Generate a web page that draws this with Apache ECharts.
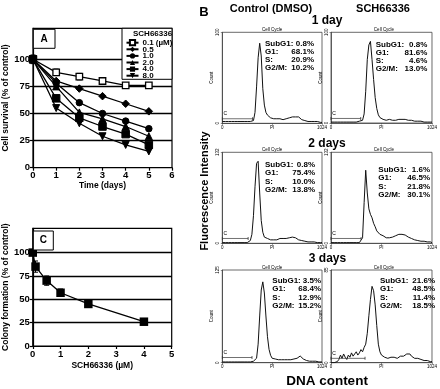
<!DOCTYPE html>
<html><head><meta charset="utf-8">
<script src="https://cdn.jsdelivr.net/npm/echarts@6.0.0/dist/echarts.min.js"></script>
<style>html,body{margin:0;padding:0;background:#fff}#c{width:440px;height:389px}</style>
</head><body><div id="c"></div>
<script>
// ---------- Panel A: cell survival ----------
const days = [0, 1, 2, 3, 4, 5];
const doseNames = ['0.1 (\u00b5M)', '0.5', '1.0', '2.0', '4.0', '8.0'];
const surv01 = [100, 88, 84, 80, 76, 76];
const surv05 = [100, 80, 73, 66, 59, 52];
const surv10 = [100, 78, 60, 50, 43, 36];
const surv20 = [100, 75, 51, 45, 38, 29];
const surv40 = [100, 64, 46, 38, 31, 21];
const surv80 = [100, 55, 41, 29, 21, 15];
const surv01Err = [4, 3, 3, 2, 2, 2];
const yTicksA = [0, 25, 50, 75, 100];

// ---------- Panel C: colony formation ----------
const doseC = [0, 0.1, 0.5, 1, 2, 4];
const colony = [100, 85, 70, 57, 45, 26];
const colonyErr = [2, 6, 5, 4, 2, 2];
const yTicksC = [0, 25, 50, 75, 100];

// ---------- Panel B: cell cycle histograms ----------
const channels = [0,16,32,48,64,80,96,112,128,144,160,176,192,208,224,240,256,272,288,304,320,336,352,368,384,400,416,432,448,464,480,496,512,528,544,560,576,592,608,624,640,656,672,688,704,720,736,752,768,784,800,816,832,848,864,880,896,912,928,944,960,976,992,1008,1024];
const histXLabels = ['0', 'PI', '1024'];
const histCtrlDay1 = [2,2,2,2,2,2,2,2,2,2,2,2,2,2,2,2,2,2,2,2,3,12,40,72,88,74,38,20,12,9,7,6,6,5,5,5,4,5,5,4,5,5,5,6,6,7,8,7,6,7,5,4,3,3,3,2,2,2,2,2,2,2,1,1,1];
const histSchDay1 = [1,1,1,1,1,1,1,1,1,1,1,1,1,1,1,1,1,1,2,2,3,10,35,70,86,90,70,48,28,16,9,6,5,4,4,3,3,4,3,3,4,3,4,4,5,4,5,4,4,3,3,3,3,2,2,2,2,2,2,1,1,1,1,1,1];
const histCtrlDay2 = [1,1,1,1,1,1,1,1,1,1,1,1,1,1,1,1,1,3,4,13,40,82,116,119,73,33,16,9,7,7,5,5,5,5,7,5,5,7,5,7,7,7,8,8,9,9,8,8,7,5,4,4,3,3,3,2,3,2,2,2,2,1,1,1,1];
const histSchDay2 = [1,1,1,1,1,1,1,1,1,1,1,1,1,1,1,1,1,1,1,3,8,59,106,73,50,42,37,29,24,18,16,13,12,11,9,8,8,8,8,9,9,11,12,13,15,13,15,12,11,9,8,7,5,5,4,4,4,3,3,3,2,2,2,2,1];
const histCtrlDay3 = [1,1,1,1,1,1,1,1,1,1,1,1,1,1,1,1,1,1,1,1,2,3,6,25,63,98,109,94,63,35,18,10,6,5,5,5,4,5,4,5,4,5,4,5,4,5,5,5,6,8,9,8,5,4,3,3,2,3,2,2,2,1,1,1,1];
const histSchDay3 = [0,0,0,1,1,3,7,4,8,5,3,7,5,9,6,8,10,7,9,12,10,14,17,27,43,58,70,66,53,34,17,10,7,6,5,6,4,5,5,4,5,5,4,5,6,5,6,7,8,7,8,6,5,4,3,4,3,3,3,2,3,2,2,1,1];
const countMax = [100, 100, 132, 132, 125, 85];
const gateLevel = [5, 5, 7, 7, 7, 4];
const gateEnd = [310, 302, 265, 305, 305, 345];
const phaseLabels = ['SubG1:', 'G1:', 'S:', 'G2/M:'];
const ctrlDay1 = ['0.8%', '68.1%', '20.9%', '10.2%'];
const schDay1 = ['0.8%', '81.6%', '4.6%', '13.0%'];
const ctrlDay2 = ['0.8%', '75.4%', '10.0%', '13.8%'];
const schDay2 = ['1.6%', '46.5%', '21.8%', '30.1%'];
const ctrlDay3 = ['3.5%', '68.4%', '12.9%', '15.2%'];
const schDay3 = ['21.6%', '48.5%', '11.4%', '18.5%'];
const columnTitles = ['Control (DMSO)', 'SCH66336'];
const dayTitles = ['1 day', '2 days', '3 days'];

const F = '"Liberation Sans", Arial, sans-serif';
const chart = echarts.init(document.getElementById('c'), null, {renderer: 'canvas'});

const grids = [], xAxes = [], yAxes = [], series = [], graphic = [];
const bold = (size) => ({fontFamily: F, fontWeight: 'bold', fontSize: size, color: '#000'});

// ---- Grid A ----
grids.push({left: 33, top: 28.3, width: 139, height: 139.4, show: true, borderColor: '#000', borderWidth: 1.2, backgroundColor: 'transparent'});
xAxes.push({gridIndex: 0, type: 'value', min: 0, max: 6, interval: 1,
  axisLine: {lineStyle: {color: '#000', width: 1.2}}, axisTick: {length: 3, lineStyle: {color: '#000', width: 1.2}},
  axisLabel: Object.assign(bold(9.5), {margin: 3}), splitLine: {show: false},
  name: 'Time (days)', nameLocation: 'middle', nameGap: 12.5, nameTextStyle: bold(8.5)});
yAxes.push({gridIndex: 0, type: 'value', min: 0, max: 128.6,
  axisLine: {lineStyle: {color: '#000', width: 1.2}},
  axisTick: {customValues: yTicksA, length: 3, lineStyle: {color: '#000', width: 1.2}},
  axisLabel: Object.assign(bold(9.5), {margin: 3, customValues: yTicksA}), splitLine: {show: false},
  name: 'Cell survival (% of control)', nameLocation: 'middle', nameGap: 22, nameTextStyle: bold(8.5)});

// ---- Grid C ----
grids.push({left: 32.3, top: 228.3, width: 139.4, height: 117.7, show: true, borderColor: '#000', borderWidth: 1.2, backgroundColor: 'transparent'});
xAxes.push({gridIndex: 1, type: 'value', min: 0, max: 5, interval: 1,
  axisLine: {lineStyle: {color: '#000', width: 1.2}}, axisTick: {length: 3, lineStyle: {color: '#000', width: 1.2}},
  axisLabel: Object.assign(bold(9.5), {margin: 3}), splitLine: {show: false},
  name: 'SCH66336 (\u00b5M)', nameLocation: 'middle', nameGap: 15.5, nameTextStyle: bold(8.5)});
yAxes.push({gridIndex: 1, type: 'value', min: 0, max: 126,
  axisLine: {lineStyle: {color: '#000', width: 1.2}},
  axisTick: {customValues: yTicksC, length: 3, lineStyle: {color: '#000', width: 1.2}},
  axisLabel: Object.assign(bold(9.5), {margin: 3, customValues: yTicksC}), splitLine: {show: false},
  name: 'Colony formation (% of control)', nameLocation: 'middle', nameGap: 22, nameTextStyle: bold(8.5)});

const hLine = (vals) => ({silent: true, symbol: ['none', 'none'], animation: false,
  label: {show: false}, lineStyle: {color: '#000', width: 1.3, type: 'solid'},
  data: vals.map(v => ({yAxis: v}))});

const survSets = [surv01, surv05, surv10, surv20, surv40, surv80];
const invTri = 'path://M0,0 L10,0 L5,9 Z';
const symbols = ['rect', 'diamond', 'circle', 'triangle', 'rect', invTri];
const symSizes = [6.5, 7.5, 6.5, 7, 7.5, 7];
survSets.forEach((s, k) => {
  const ser = {
    type: 'line', name: doseNames[k], xAxisIndex: 0, yAxisIndex: 0,
    data: days.map((d, i) => [d, s[i]]),
    symbol: symbols[k], symbolSize: symSizes[k], showAllSymbol: true,
    lineStyle: {color: '#000', width: 1.3}, animation: false, z: 5,
    itemStyle: k === 0 ? {color: '#fff', borderColor: '#000', borderWidth: 1.3} : {color: '#000', borderColor: '#000'}
  };
  if (k === 0) ser.markLine = hLine([25, 50, 75, 100]);
  series.push(ser);
});

const errRender = (params, api) => {
  const x = api.value(0), y = api.value(1), e = api.value(2);
  const p1 = api.coord([x, y + e]), p2 = api.coord([x, y - e]);
  const st = {stroke: '#000', lineWidth: 1};
  return {type: 'group', children: [
    {type: 'line', shape: {x1: p1[0], y1: p1[1], x2: p2[0], y2: p2[1]}, style: st},
    {type: 'line', shape: {x1: p1[0] - 2.5, y1: p1[1], x2: p1[0] + 2.5, y2: p1[1]}, style: st},
    {type: 'line', shape: {x1: p2[0] - 2.5, y1: p2[1], x2: p2[0] + 2.5, y2: p2[1]}, style: st}
  ]};
};
series.push({type: 'custom', xAxisIndex: 0, yAxisIndex: 0, z: 4, animation: false, silent: true,
  data: days.map((d, i) => [d, surv01[i], surv01Err[i]]), renderItem: errRender});

series.push({type: 'line', name: 'colony', xAxisIndex: 1, yAxisIndex: 1,
  data: doseC.map((d, i) => [d, colony[i]]), symbol: 'rect', symbolSize: 8.5,
  lineStyle: {color: '#000', width: 1.3}, itemStyle: {color: '#000'}, animation: false, z: 5,
  markLine: hLine([25, 50, 75, 100])});
series.push({type: 'custom', xAxisIndex: 1, yAxisIndex: 1, z: 4, animation: false, silent: true,
  data: doseC.map((d, i) => [d, colony[i], colonyErr[i]]), renderItem: errRender});

// ---- Histograms ----
const hists = [histCtrlDay1, histSchDay1, histCtrlDay2, histSchDay2, histCtrlDay3, histSchDay3];
const stats = [ctrlDay1, schDay1, ctrlDay2, schDay2, ctrlDay3, schDay3];
const hGrid = [
  {left: 222.3, top: 32.3, width: 99.7, height: 91},
  {left: 331, top: 32.3, width: 106, height: 90.7},
  {left: 222.3, top: 152.3, width: 99.7, height: 91},
  {left: 331, top: 152.3, width: 106, height: 91},
  {left: 222.3, top: 270, width: 99.7, height: 92.7},
  {left: 331, top: 270, width: 106, height: 92.7}
];
const statPos = [
  {lx: 265, vx: 314, y0: 43.3},
  {lx: 375.7, vx: 427.3, y0: 44.3},
  {lx: 265, vx: 315, y0: 165},
  {lx: 378.3, vx: 430, y0: 170},
  {lx: 272.3, vx: 321, y0: 281},
  {lx: 380, vx: 435, y0: 281}
];
const tiny = {fontFamily: F, fontSize: 4.5, color: '#000'};
hists.forEach((h, k) => {
  const gi = k + 2;
  grids.push(Object.assign({show: true, borderColor: '#444', borderWidth: 0.8, backgroundColor: 'transparent'}, hGrid[k]));
  xAxes.push({gridIndex: gi, type: 'value', min: 0, max: 1024, interval: 512,
    axisLine: {show: true, lineStyle: {color: '#444', width: 0.8}},
    axisTick: {show: true, length: 1.5, lineStyle: {color: '#444', width: 0.6}},
    axisLabel: Object.assign({}, tiny, {margin: 2, formatter: (v) => histXLabels[Math.round(v / 512)]}),
    splitLine: {show: false}});
  yAxes.push({gridIndex: gi, type: 'value', min: 0, max: countMax[k], interval: countMax[k],
    axisLine: {show: true, lineStyle: {color: '#444', width: 0.8}},
    axisTick: {show: true, length: 1.5, lineStyle: {color: '#444', width: 0.6}},
    axisLabel: Object.assign({}, tiny, {margin: 2, rotate: 90}), splitLine: {show: false},
    name: 'Count', nameLocation: 'middle', nameGap: 4, nameRotate: 90, nameTextStyle: tiny});
  series.push({type: 'line', xAxisIndex: gi, yAxisIndex: gi, data: channels.map((c, i) => [c, h[i]]),
    showSymbol: false, symbol: 'none', lineStyle: {color: '#111', width: 1}, animation: false, silent: true});
  series.push({type: 'line', xAxisIndex: gi, yAxisIndex: gi,
    data: [[0, gateLevel[k]], [gateEnd[k], gateLevel[k]]],
    symbol: 'rect', symbolSize: [0.8, 3], itemStyle: {color: '#333'},
    lineStyle: {color: '#333', width: 0.7}, animation: false, silent: true,
    label: {show: true, position: 'top', distance: 1, offset: [3, 0], fontFamily: F, fontSize: 5, color: '#000',
      formatter: (p) => p.dataIndex === 0 ? 'C' : ''}});
  const g = hGrid[k];
  graphic.push({type: 'text', x: g.left + g.width / 2, y: g.top - 2.5, silent: true,
    style: {text: 'Cell Cycle', font: '4.5px ' + F, fill: '#000', align: 'center', verticalAlign: 'middle'}});
  const sp = statPos[k];
  phaseLabels.forEach((lab, r) => {
    const y = sp.y0 + r * 8.2;
    graphic.push({type: 'text', x: sp.lx, y: y, silent: true, z: 10,
      style: {text: lab, font: 'bold 8px ' + F, fill: '#000', align: 'left', verticalAlign: 'middle'}});
    graphic.push({type: 'text', x: sp.vx, y: y, silent: true, z: 10,
      style: {text: stats[k][r], font: 'bold 8px ' + F, fill: '#000', align: 'right', verticalAlign: 'middle'}});
  });
});

// ---- Labels, boxes, legend box ----
const txt = (t, x, y, size, opts) => Object.assign({type: 'text', x: x, y: y, silent: true, z: 30,
  style: {text: t, font: 'bold ' + size + 'px ' + F, fill: '#000', align: 'center', verticalAlign: 'middle'}}, opts || {});
graphic.push({type: 'rect', shape: {x: 122, y: 28.3, width: 50, height: 51}, z: 20, silent: true,
  style: {fill: '#fff', stroke: '#000', lineWidth: 1}});
graphic.push({type: 'text', x: 133, y: 34, silent: true, z: 30,
  style: {text: 'SCH66336', font: 'bold 8px ' + F, fill: '#000', align: 'left', verticalAlign: 'middle'}});
graphic.push({type: 'rect', shape: {x: 33.3, y: 29.3, width: 21.7, height: 19}, z: 20, silent: true,
  style: {fill: '#fff', stroke: '#000', lineWidth: 1}});
graphic.push(txt('A', 44.2, 39, 10));
graphic.push({type: 'rect', shape: {x: 33.3, y: 231, width: 20, height: 19}, z: 20, silent: true,
  style: {fill: '#fff', stroke: '#000', lineWidth: 1}});
graphic.push(txt('C', 43.3, 240.5, 10));
graphic.push(txt('B', 204, 12, 13));
graphic.push(txt(columnTitles[0], 271, 8.5, 11));
graphic.push(txt(columnTitles[1], 383, 8.5, 11));
graphic.push(txt(dayTitles[0], 327, 21, 12));
graphic.push(txt(dayTitles[1], 327, 143.3, 12));
graphic.push(txt(dayTitles[2], 327.5, 259, 12));
graphic.push(txt('DNA content', 327, 381.5, 13.5));
graphic.push(txt('Fluorescence Intensity', 205, 191, 11, {rotation: Math.PI / 2}));

// one legend component per dose row, so rows can be packed tightly
const legendRowY = [42.7, 49.3, 55.9, 62.5, 69.1, 75.7];
const legends = doseNames.map((nm, k) => ({
  data: [nm], left: 125.5, top: legendRowY[k] - 4.5, orient: 'vertical', itemWidth: 12, itemHeight: 6.5,
  padding: 0, z: 40, selectedMode: false, itemGap: 0,
  textStyle: {fontFamily: F, fontWeight: 'bold', fontSize: 8, color: '#000', lineHeight: 9, padding: [0, 0, 0, -1]}
}));

chart.setOption({
  animation: false,
  backgroundColor: '#fff',
  grid: grids, xAxis: xAxes, yAxis: yAxes, series: series, graphic: graphic,
  legend: legends
});
</script></body></html>
